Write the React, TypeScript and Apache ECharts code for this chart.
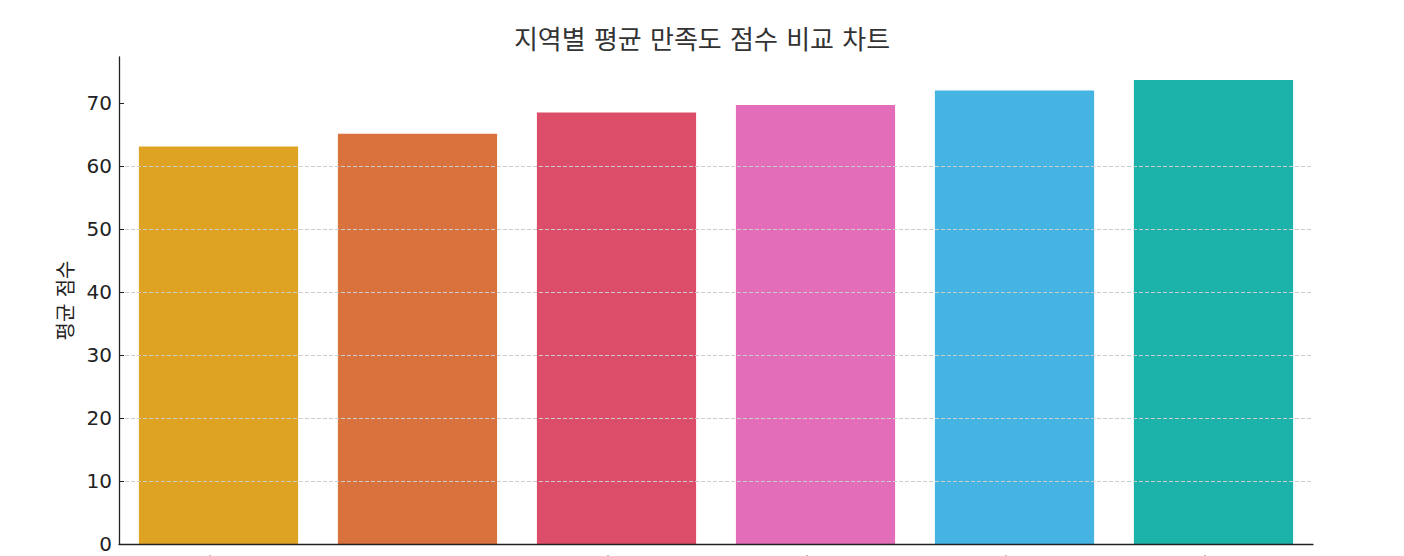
import { useEffect, useRef } from 'react';
import * as echarts from 'echarts';

const TITLE = '지역별 평균 만족도 점수 비교 차트';
const Y_NAME = '평균 점수';

const categories = ['서울특별시', '부산광역시 해운대구', '대구광역시', '인천광역시', '광주광역시', '대전광역시'];
const scores = [63.1, 65.1, 68.5, 69.7, 72.0, 73.65];
const barColors = ['#DFA324', '#DA723D', '#DC4D69', '#E46DB9', '#45B4E3', '#1BB2A9'];
const yTicks = [0, 10, 20, 30, 40, 50, 60, 70];

const FONT = "'DejaVu Sans', 'Noto Sans CJK KR', sans-serif";

export default function App() {
  const ref = useRef<HTMLDivElement | null>(null);

  useEffect(() => {
    if (!ref.current) return;
    const chart = echarts.init(ref.current, undefined, { renderer: 'svg' });

    chart.setOption({
      animation: false,
      title: {
        text: TITLE,
        left: 'center',
        top: 22,
        textStyle: {
          color: '#333333',
          fontSize: 26,
          fontWeight: 'normal',
          fontFamily: FONT,
        },
      },
      grid: { left: 119, right: 91, top: 57, bottom: 136, outerBoundsMode: 'none', containLabel: false },
      xAxis: {
        type: 'category',
        data: categories,
        z: 3,
        axisLine: { lineStyle: { color: '#222222', width: 1.3 } },
        axisTick: { inside: true, length: 5, alignWithLabel: true, lineStyle: { color: '#222222' } },
        axisLabel: {
          rotate: 45,
          margin: 16,
          interval: 0,
          color: '#222222',
          fontSize: 20,
          fontFamily: FONT,
        },
      },
      yAxis: {
        type: 'value',
        min: 0,
        max: 77.3,
        interval: 10,
        z: 3,
        name: Y_NAME,
        nameLocation: 'middle',
        nameGap: 37,
        nameTextStyle: { color: '#222222', fontSize: 20, fontFamily: FONT },
        axisLine: { show: true, lineStyle: { color: '#222222', width: 1.3 } },
        axisTick: { show: true, inside: true, length: 5, customValues: yTicks, lineStyle: { color: '#222222' } },
        axisLabel: {
          customValues: yTicks,
          margin: 7,
          color: '#222222',
          fontSize: 20,
          fontFamily: FONT,
        },
        splitLine: {
          show: true,
          showMinLine: false,
          showMaxLine: false,
          lineStyle: { color: '#cccccc', width: 1, type: [4, 2] },
        },
      },
      series: [
        {
          type: 'bar',
          barWidth: '80%',
          data: scores.map((v, i) => ({ value: v, itemStyle: { color: barColors[i] } })),
        },
      ],
    });

    return () => {
      chart.dispose();
    };
  }, []);

  return (
    <div style={{ position: 'fixed', left: 0, top: 0, width: 1404, height: 556, overflow: 'hidden', background: '#fff' }}>
      <div ref={ref} style={{ width: 1404, height: 680 }} />
    </div>
  );
}
